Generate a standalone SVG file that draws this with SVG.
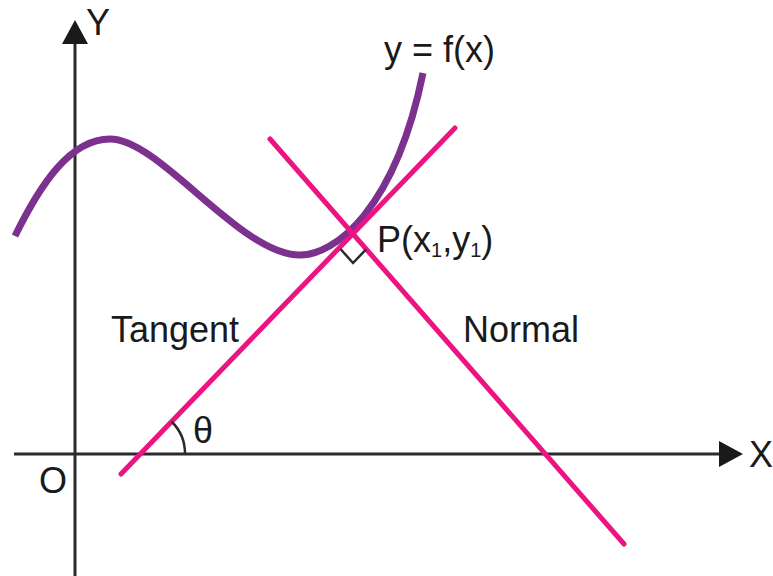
<svg xmlns="http://www.w3.org/2000/svg" width="773" height="576" viewBox="0 0 773 576">
<style>
.axis{stroke:#2b2b2b;stroke-width:3;fill:none}
.pink{stroke:#EC1481;stroke-width:5;stroke-linecap:round;fill:none}
.curve{stroke:#7D318E;stroke-width:7;stroke-linecap:butt;fill:none}
.thin{stroke:#2b2b2b;stroke-width:2.5;fill:none}
text{font-family:"Liberation Sans",Arial,sans-serif;fill:#1a1a1a;font-size:36px}
</style>
<defs>
<marker id="arr" markerUnits="userSpaceOnUse" markerWidth="24" markerHeight="26" refX="0" refY="13" orient="auto" viewBox="0 0 24 26">
<path d="M0,0 L24,13 L0,26 z" fill="#1a1a1a"/>
</marker>
</defs>
<g id="axes">
<line id="x-axis" class="axis" x1="14" y1="454" x2="719" y2="454" marker-end="url(#arr)"/>
<line id="y-axis" class="axis" x1="75" y1="576" x2="75" y2="44" marker-end="url(#arr)"/>
<text x="86" y="35" font-size="35">Y</text>
<text x="749" y="467" font-size="35">X</text>
<text x="39" y="493" font-size="35">O</text>
</g>
<g id="curve">
<path class="curve" d="M15,236 C40,185 70,139 110,139 C160,139 240,255 300,255 C335,255 395,210 423,73"/>
<text x="384" y="62">y = f(x)</text>
</g>
<g id="connectors">
<line id="tangent" class="pink" x1="121" y1="474" x2="455" y2="128"/>
<line id="normal" class="pink" x1="270" y1="139" x2="624" y2="544"/>
<path id="right-angle" class="thin" d="M340.5,249 L353,263 L366,249.5"/>
<path id="theta-arc" class="thin" d="M185,454 A45,45 0 0 0 171.5,421.5"/>
</g>
<g id="labels">
<text x="377" y="252">P(x<tspan font-size="20" dy="5">1</tspan><tspan dy="-5">,y</tspan><tspan font-size="20" dy="5">1</tspan><tspan dy="-5">)</tspan></text>
<text x="111" y="342" font-size="35">Tangent</text>
<text x="463" y="342" font-size="36">Normal</text>
<text x="193" y="443" font-size="30">θ</text>
</g>
</svg>
